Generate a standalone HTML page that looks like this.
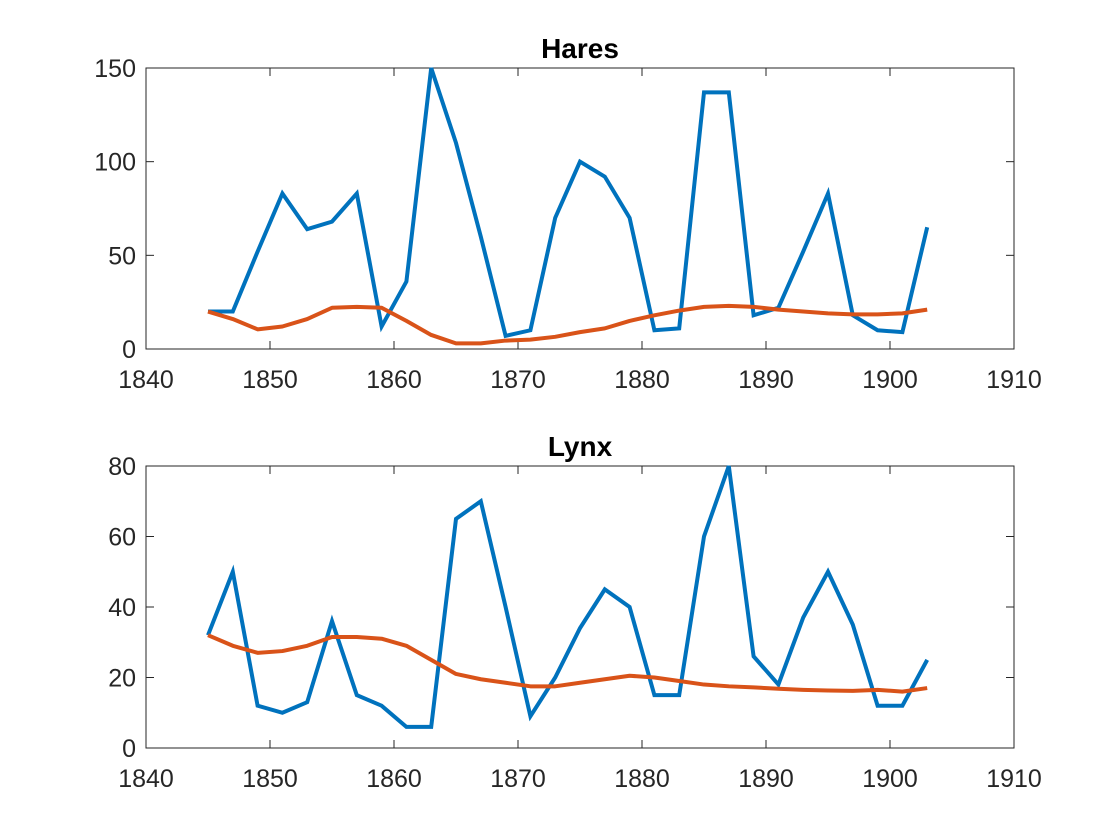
<!DOCTYPE html>
<html><head><meta charset="utf-8"><style>
body{margin:0;background:#fff;}
svg{display:block;font-family:"Liberation Sans",Arial,sans-serif;}
</style></head><body>
<svg id="chart" width="1120" height="840" viewBox="0 0 1120 840"></svg>
<script>
const years = [1845,1847,1849,1851,1853,1855,1857,1859,1861,1863,1865,1867,1869,1871,1873,1875,1877,1879,1881,1883,1885,1887,1889,1891,1893,1895,1897,1899,1901,1903];
const haresData = [20,20,52,83,64,68,83,12,36,150,110,60,7,10,70,100,92,70,10,11,137,137,18,22,52,83,18,10,9,65];
const haresFit = [20,16,10.5,12,16,22,22.5,22,15,7.5,3,3,4.5,5,6.5,9,11,15,18,20.5,22.5,23,22.5,21,20,19,18.5,18.5,19,21];
const lynxData = [32,50,12,10,13,36,15,12,6,6,65,70,40,9,20,34,45,40,15,15,60,80,26,18,37,50,35,12,12,25];
const lynxFit = [32,29,27,27.5,29,31.5,31.5,31,29,25,21,19.5,18.5,17.5,17.5,18.5,19.5,20.5,20,19,18,17.5,17.2,16.8,16.5,16.3,16.2,16.5,16,17];
const xTicks = [1840,1850,1860,1870,1880,1890,1900,1910];
const haresYTicks = [0,50,100,150];
const lynxYTicks = [0,20,40,60,80];

const NS="http://www.w3.org/2000/svg";
const svg=document.getElementById('chart');
function mk(tag,attrs,parent){const e=document.createElementNS(NS,tag);for(const k in attrs)e.setAttribute(k,attrs[k]);(parent||svg).appendChild(e);return e;}

function panel(name,title,top,bottom,ymax,yTicks,obs,fit){
  const L=146,R=1014;
  const g=mk('g',{});
  
  
  const xs=v=>L+(v-1840)/(1910-1840)*(R-L);
  const ys=v=>bottom-v/ymax*(bottom-top);
  mk('rect',{x:L,y:top,width:R-L,height:bottom-top,fill:'#fff',stroke:'#262626','stroke-width':1},g);
  xTicks.forEach(t=>{
    const x=xs(t);
    mk('line',{x1:x,x2:x,y1:bottom,y2:bottom-8,stroke:'#262626'},g);
    mk('line',{x1:x,x2:x,y1:top,y2:top+8,stroke:'#262626'},g);
    const tx=mk('text',{x:x,y:bottom+39,'text-anchor':'middle','font-size':25,fill:'#262626'},g);
    tx.textContent=t;
    
    
  });
  yTicks.forEach(t=>{
    const y=ys(t);
    mk('line',{x1:L,x2:L+8,y1:y,y2:y,stroke:'#262626'},g);
    mk('line',{x1:R,x2:R-8,y1:y,y2:y,stroke:'#262626'},g);
    const tx=mk('text',{x:L-10,y:y+9,'text-anchor':'end','font-size':25,fill:'#262626'},g);
    tx.textContent=t;
    
    
  });
  const tt=mk('text',{x:(L+R)/2,y:top-10,'text-anchor':'middle','font-size':28,'font-weight':'bold',fill:'#000'},g);
  tt.textContent=title;
  
  
  const p1=mk('polyline',{points:years.map((yr,i)=>xs(yr)+','+ys(obs[i])).join(' '),fill:'none',stroke:'#0072BD','stroke-width':4,'stroke-linejoin':'miter'},g);
  
  
  const p2=mk('polyline',{points:years.map((yr,i)=>xs(yr)+','+ys(fit[i])).join(' '),fill:'none',stroke:'#D95319','stroke-width':4,'stroke-linejoin':'round'},g);
  
  
}
panel('hares','Hares',68,349,150,haresYTicks,haresData,haresFit);
panel('lynx','Lynx',466,748,80,lynxYTicks,lynxData,lynxFit);
</script>
</body></html>
